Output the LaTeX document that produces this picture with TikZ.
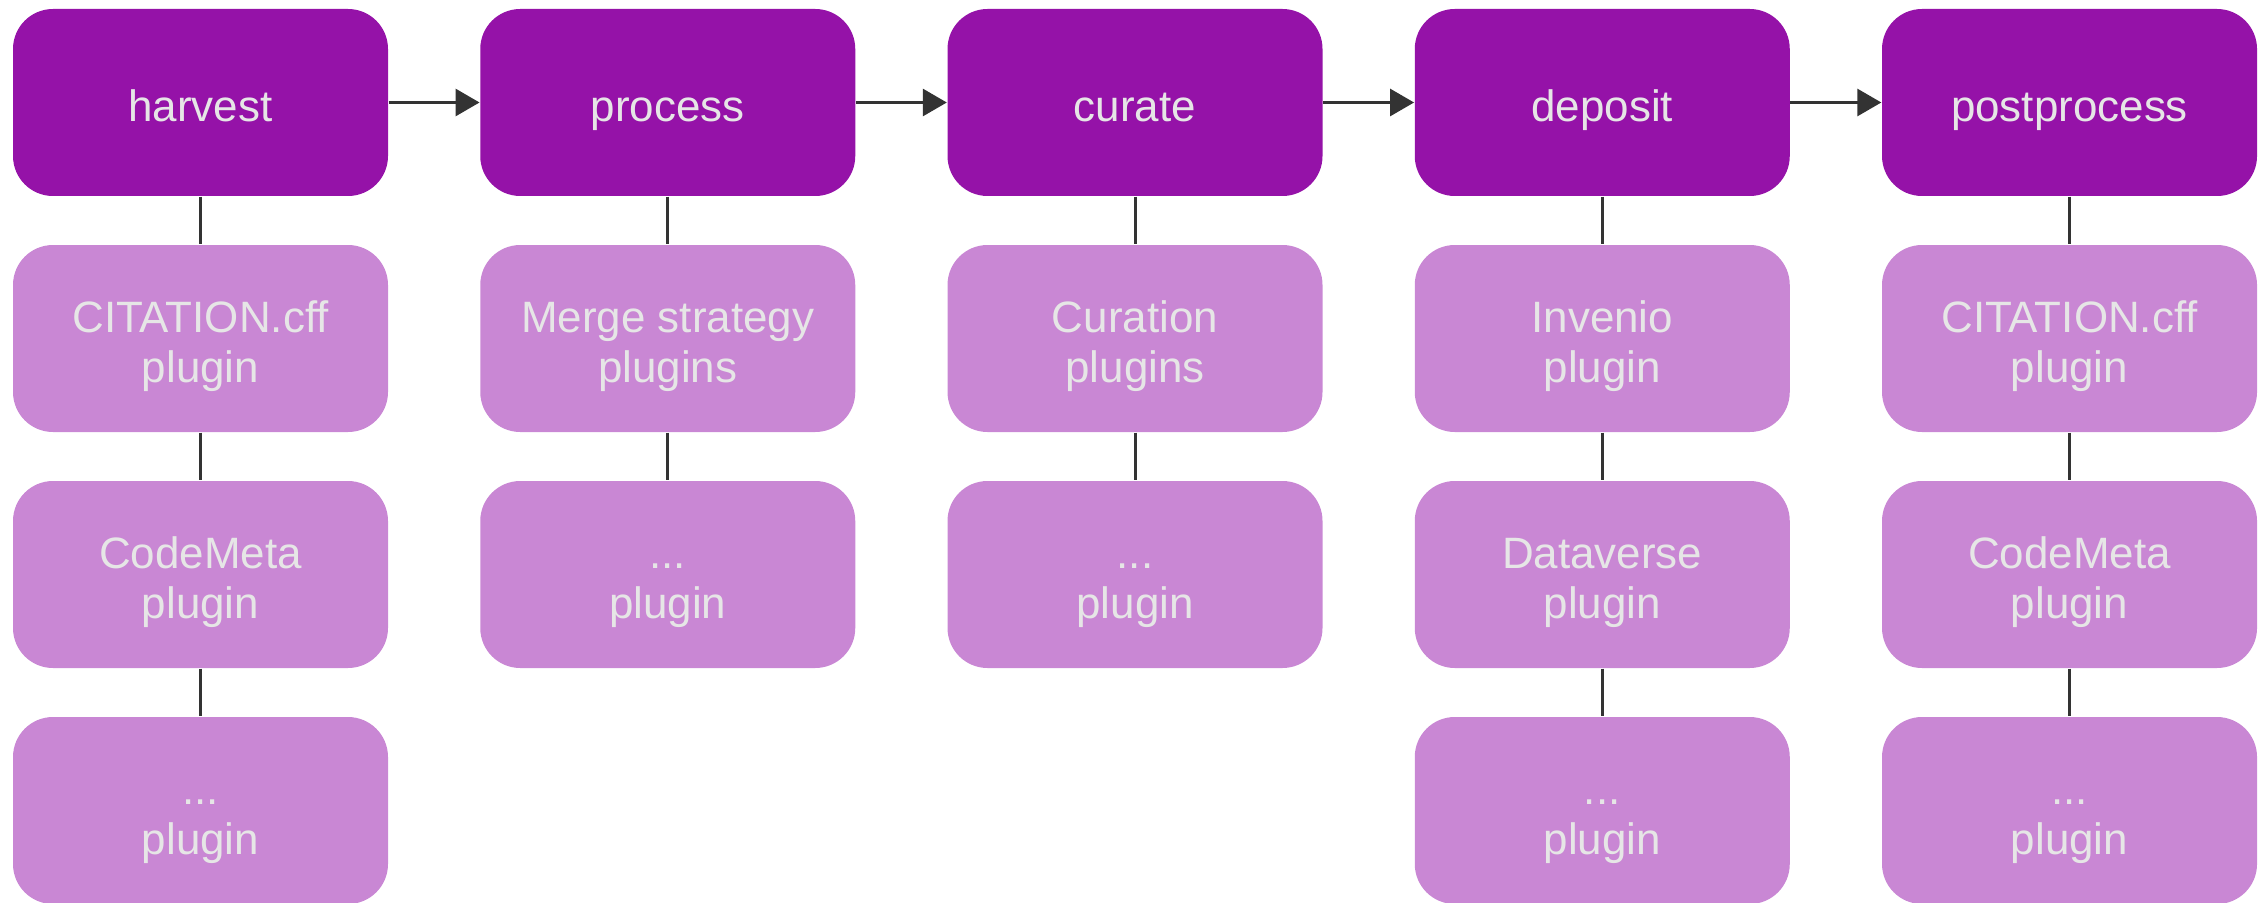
\documentclass[tikz,border=0pt]{standalone}
\usepackage{fontspec}
\setmainfont{Liberation Sans}
\usepackage{tikz}
\usetikzlibrary{positioning, arrows.meta}
\definecolor{plum}{RGB}{149,18,168}
\definecolor{orchid}{RGB}{201,135,212}
\definecolor{fog}{RGB}{230,230,230}
\definecolor{coal}{RGB}{51,51,51}

\begin{document}
\begin{tikzpicture}[
  x=0.1mm, y=0.1mm,
  stg/.style={rectangle, rounded corners=4mm, fill=plum, draw=none,
              minimum width=37.5mm, minimum height=18.7mm, inner sep=0pt,
              text=fog, font=\fontsize{12.5}{14.2}\selectfont, align=center,
              text height=4.35mm, text depth=0.5mm},
  plg/.style={stg, fill=orchid, text height=9.35mm},
  lnk/.style={draw=coal, line width=0.3mm},
  flow/.style={draw=coal, line width=0.3mm,
               -{Triangle[length=2.4mm, width=2.7mm]}}]
  \useasboundingbox (0,0) rectangle (2265,902);
  % stages
  \node[stg] (hv) at (200.5,799.5) {harvest};
  \node[stg] (pr) at (667.75,799.5) {process};
  \node[stg] (cu) at (1135,799.5) {curate};
  \node[stg] (de) at (1602.25,799.5) {deposit};
  \node[stg] (pp) at (2069.5,799.5) {postprocess};
  \draw[flow] (hv) -- (pr);
  \draw[flow] (pr) -- (cu);
  \draw[flow] (cu) -- (de);
  \draw[flow] (de) -- (pp);
  % plugins
  \node[plg] (hv1) at (200.5,563.5) {CITATION.cff\\plugin};
  \node[plg] (hv2) at (200.5,327.5) {CodeMeta\\plugin};
  \node[plg] (hv3) at (200.5,91.5) {...\\plugin};
  \node[plg] (pr1) at (667.75,563.5) {Merge strategy\\plugins};
  \node[plg] (pr2) at (667.75,327.5) {...\\plugin};
  \node[plg] (cu1) at (1135,563.5) {Curation\\plugins};
  \node[plg] (cu2) at (1135,327.5) {...\\plugin};
  \node[plg] (de1) at (1602.25,563.5) {Invenio\\plugin};
  \node[plg] (de2) at (1602.25,327.5) {Dataverse\\plugin};
  \node[plg] (de3) at (1602.25,91.5) {...\\plugin};
  \node[plg] (pp1) at (2069.5,563.5) {CITATION.cff\\plugin};
  \node[plg] (pp2) at (2069.5,327.5) {CodeMeta\\plugin};
  \node[plg] (pp3) at (2069.5,91.5) {...\\plugin};
  \draw[lnk] (hv) -- (hv1);
  \draw[lnk] (hv1) -- (hv2);
  \draw[lnk] (hv2) -- (hv3);
  \draw[lnk] (pr) -- (pr1);
  \draw[lnk] (pr1) -- (pr2);
  \draw[lnk] (cu) -- (cu1);
  \draw[lnk] (cu1) -- (cu2);
  \draw[lnk] (de) -- (de1);
  \draw[lnk] (de1) -- (de2);
  \draw[lnk] (de2) -- (de3);
  \draw[lnk] (pp) -- (pp1);
  \draw[lnk] (pp1) -- (pp2);
  \draw[lnk] (pp2) -- (pp3);
\end{tikzpicture}
\end{document}
